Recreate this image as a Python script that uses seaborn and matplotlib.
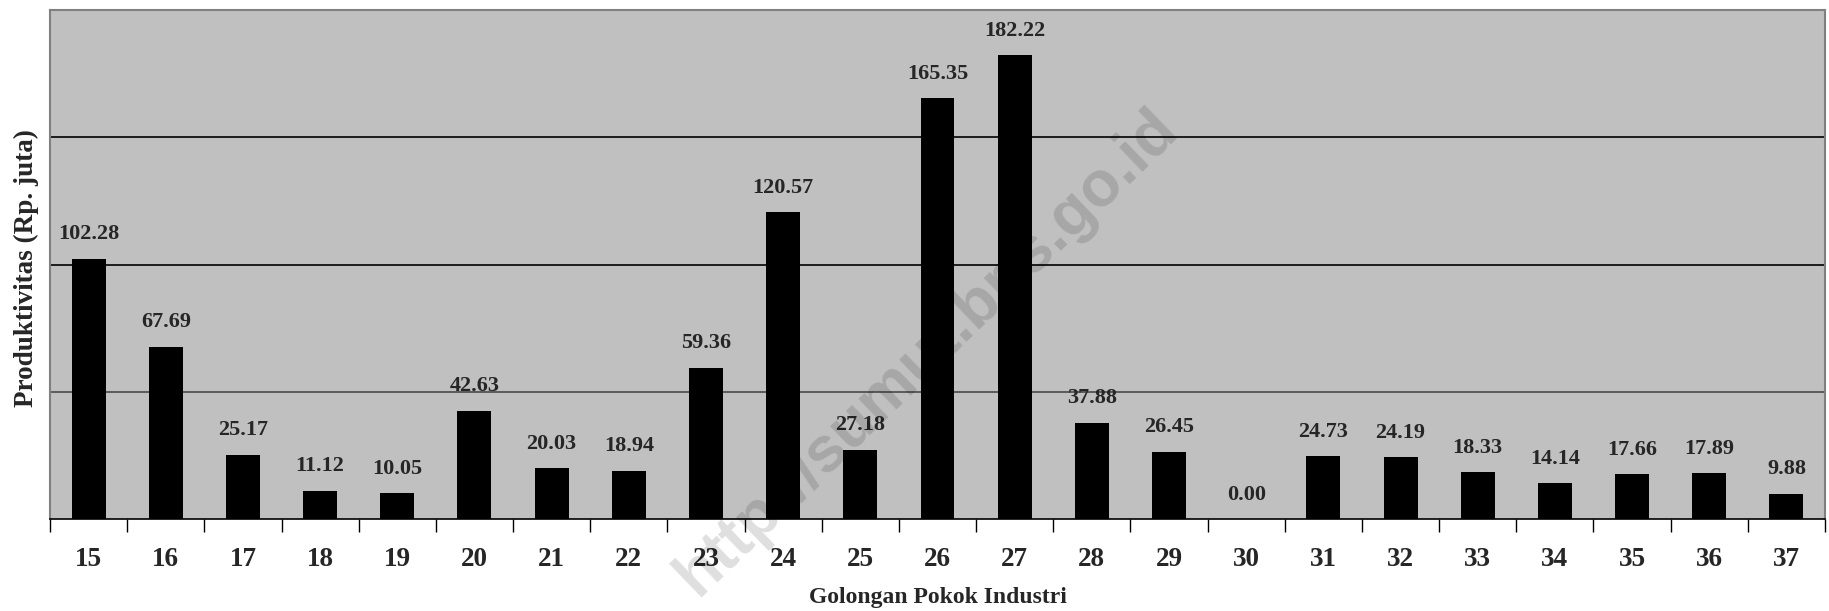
import numpy as np
import matplotlib
matplotlib.use("Agg")
import matplotlib.pyplot as plt
import seaborn as sns

# Golongan pokok industri (KBLI 2 digit) and productivity values
golongan = ['15', '16', '17', '18', '19', '20', '21', '22', '23', '24', '25', '26',
            '27', '28', '29', '30', '31', '32', '33', '34', '35', '36', '37']
produktivitas = [102.28, 67.69, 25.17, 11.12, 10.05, 42.63, 20.03, 18.94, 59.36,
                 120.57, 27.18, 165.35, 182.22, 37.88, 26.45, 0.00, 24.73, 24.19,
                 18.33, 14.14, 17.66, 17.89, 9.88]
grid_levels = [50, 100, 150]
grid_colors = ['#4a4a4a', 'black', 'black']

sns.set_style("white")
plt.rcParams['font.family'] = ['Liberation Serif', 'DejaVu Serif']
plt.rcParams['font.weight'] = 'bold'

fig = plt.figure(figsize=(18.29, 6.11), dpi=100)
ax = fig.add_axes([50 / 1829, 1 - 519 / 611, 1775 / 1829, 509 / 611])
ax.set_facecolor('#c0c0c0')

sns.barplot(x=golongan, y=produktivitas, color='black', saturation=1,
            width=0.44, linewidth=0, ax=ax, zorder=3)

for lvl, c in zip(grid_levels, grid_colors):
    ax.axhline(lvl, color=c, linewidth=1.2, zorder=1)

# value labels above bars
for i, v in enumerate(produktivitas):
    ax.annotate(f'{v:.2f}', (i, v), xytext=(0, 14), textcoords='offset points',
                ha='center', va='baseline', fontsize=16, fontweight='bold')

ax.set_ylim(0, 200)
ax.set_xlim(-0.5, len(golongan) - 0.5)
ax.set_yticks([])

ax.set_xticks(np.arange(len(golongan)))
ax.set_xticklabels(golongan, fontsize=19.5, fontweight='bold')
ax.set_xticks(np.arange(len(golongan) + 1) - 0.5, minor=True)
ax.tick_params(axis='x', which='major', length=0, pad=20)
ax.tick_params(axis='x', which='minor', length=9, width=1, color='black',
               direction='out', bottom=True)

for side in ['left', 'top', 'right']:
    ax.spines[side].set_color('#808080')
    ax.spines[side].set_linewidth(1.5)
ax.spines['bottom'].set_color('black')
ax.spines['bottom'].set_linewidth(1.2)

ax.set_xlabel('Golongan Pokok Industri', fontsize=17, fontweight='bold', va='center')
ax.xaxis.set_label_coords(0.5, -(597 - 519) / 509)
ax.set_ylabel('Produktivitas (Rp. juta)', fontsize=19.5, fontweight='bold', va='center')
ax.yaxis.set_label_coords(-(50 - 26) / 1775, (519 - 268) / 509)

# watermark
fig.text(927 / 1829, 1 - 352 / 611, 'http://sumut.bps.go.id', rotation=44,
         fontsize=46, fontweight='bold', color='black', alpha=0.13,
         ha='center', va='center', family=['Liberation Sans', 'DejaVu Sans'],
         zorder=10)

plt.savefig('out.png', dpi=100)
